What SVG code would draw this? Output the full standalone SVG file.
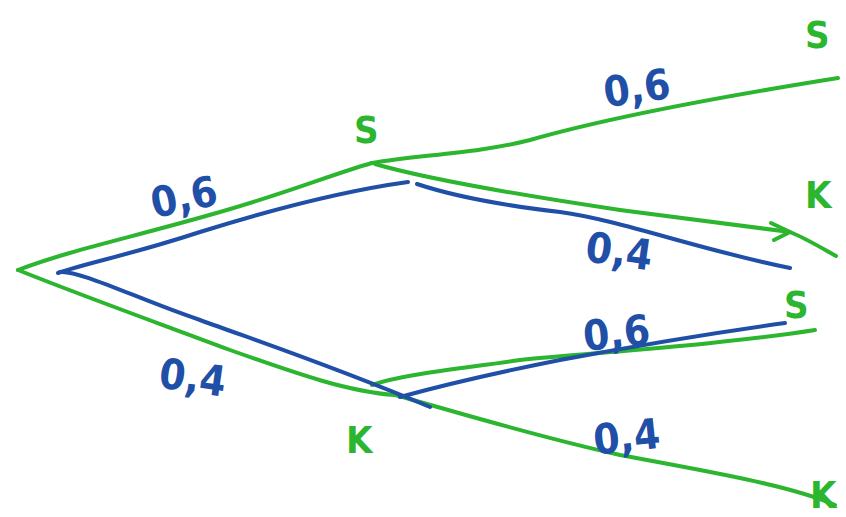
<svg xmlns="http://www.w3.org/2000/svg" width="846" height="517" viewBox="0 0 846 517">
<style>
.g{fill:none;stroke:#2cb52f;stroke-width:4;stroke-linecap:round;stroke-linejoin:round}
.b{fill:none;stroke:#1f4fa6;stroke-width:4;stroke-linecap:round;stroke-linejoin:round}
.gt{fill:#2cb52f;font-family:"DejaVu Sans Condensed","DejaVu Sans",sans-serif;font-size:38px;font-weight:bold}
.bt{fill:#1f4fa6;font-family:"DejaVu Sans Condensed","DejaVu Sans",sans-serif;font-size:42px;font-weight:bold}
</style>
<rect width="846" height="517" fill="#ffffff"/>
<g id="connectors">
<path class="g" d="M18,270 C70,250 130,238 220,212 C290,192 330,175 372,163"/>
<path class="g" d="M372,163 C420,155 480,153 530,140 C600,120 700,100 838,78"/>
<path class="g" d="M375,164 C430,180 520,195 620,210 C700,220 760,228 790,232 C805,238 820,247 836,256"/>
<path class="g" d="M771,223 L790,232 L774,240"/>
<path class="b" d="M58,273 C90,262 130,255 200,232 C280,207 350,190 408,182"/>
<path class="b" d="M417,184 C450,195 500,205 560,212 C620,220 700,250 790,268"/>
<path class="g" d="M18,270 C80,295 150,320 230,350 C300,375 350,392 395,395 C450,410 530,435 620,455 C700,470 790,485 835,505"/>
<path class="g" d="M372,385 C400,375 450,370 520,360 C600,352 720,345 815,330"/>
<path class="b" d="M60,272 C80,270 140,300 200,320 C260,342 330,365 430,407"/>
<path class="b" d="M400,397 C440,386 500,372 560,360 C640,345 720,332 785,323"/>
</g>
<g id="n-root"/>
<g id="n-S1"><text class="gt" x="354" y="143">S</text></g>
<g id="n-K1"><text class="gt" x="346" y="453">K</text></g>
<g id="n-SS"><text class="gt" x="805" y="48">S</text></g>
<g id="n-SK"><text class="gt" x="805" y="208">K</text></g>
<g id="n-KS"><text class="gt" x="784" y="318">S</text></g>
<g id="n-KK"><text class="gt" x="810" y="508">K</text></g>
<g id="labels">
<text class="bt" x="150" y="212" transform="rotate(-12 182 195)">0,6</text>
<text class="bt" x="603" y="103" transform="rotate(-8 635 85)">0,6</text>
<text class="bt" x="586" y="266" transform="rotate(8 620 250)">0,4</text>
<text class="bt" x="160" y="392" transform="rotate(8 192 372)">0,4</text>
<text class="bt" x="583" y="348" transform="rotate(-6 612 332)">0,6</text>
<text class="bt" x="593" y="452" transform="rotate(-6 620 435)">0,4</text>
</g>
</svg>
